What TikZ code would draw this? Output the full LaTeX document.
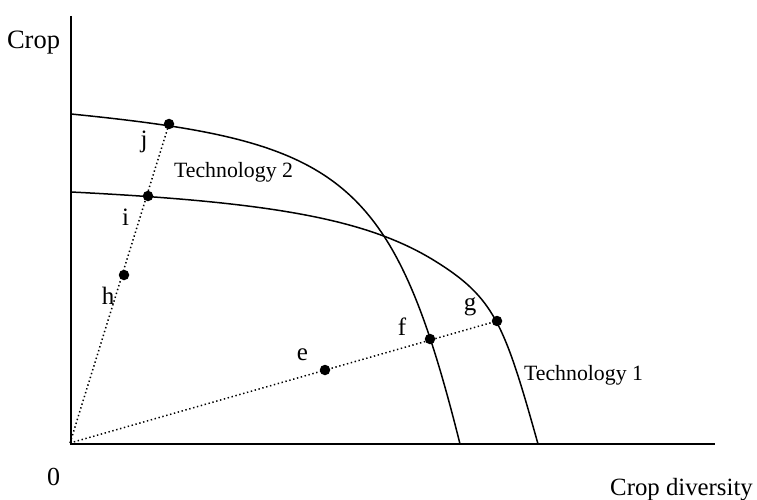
\documentclass[tikz,border=0pt]{standalone}
\usepackage{fontspec}
\setmainfont{Liberation Serif}
\begin{document}
\begin{tikzpicture}[x=1pt,y=-1pt,
  axis/.style={line width=1.8pt},
  frontier/.style={line width=1.5pt},
  ray/.style={line width=1.5pt, dash pattern=on 1.4pt off 2.6pt},
  pt/.style={circle, fill=black, inner sep=0pt, minimum size=10.5pt},
  lab/.style={anchor=base, inner sep=0pt, font=\fontsize{25}{29}\selectfont},
  tech/.style={anchor=base, inner sep=0pt, font=\fontsize{21.8}{25}\selectfont}]
\useasboundingbox (0,0) rectangle (757,500);
% coordinates
\coordinate (O) at (70,443);
\coordinate (ytop) at (71,16);
\coordinate (orig) at (71,444);
\coordinate (xend) at (715,444);
\coordinate (cj) at (169,124);
\coordinate (ci) at (148,196);
\coordinate (ch) at (124,275);
\coordinate (ce) at (325,370);
\coordinate (cf) at (430,339);
\coordinate (cg) at (497,321);
\coordinate (K) at (435,261);
% axes
\draw[axis] (ytop) -- (orig) -- (xend);
% Technology 2 frontier
\draw[frontier] (71,114) .. controls (341,141) and (392.5,174) .. (460,444);
% Technology 1 frontier
\draw[frontier] (71,192) .. controls (271,202) and (367,218.8) .. (K)
  .. controls (494.5,297.9) and (504.4,324) .. (538,444);
% rays
\draw[ray] (O) -- (cj);
\draw[ray] (O) -- (cg);
% points
\node[pt] (j) at (cj) {};
\node[pt] (i) at (ci) {};
\node[pt] (h) at (ch) {};
\node[pt] (e) at (ce) {};
\node[pt] (f) at (cf) {};
\node[pt] (g) at (cg) {};
% point labels
\node[lab] (lj) at (144,147) {j};
\node[lab] (li) at (125.5,225) {i};
\node[lab] (lh) at (108,304) {h};
\node[lab] (le) at (302.5,360) {e};
\node[lab] (lf) at (402,335) {f};
\node[lab] (lg) at (470,310) {g};
% curve labels
\node[tech] (t2) at (233.5,177) {Technology 2};
\node[tech] (t1) at (583.5,380) {Technology 1};
% axis labels
\node[lab, font=\fontsize{26.5}{30}\selectfont] (ylab) at (33.5,49) {Crop};
\node[lab, font=\fontsize{26}{30}\selectfont] (zero) at (53.5,485) {0};
\node[lab, font=\fontsize{24.8}{29}\selectfont] (xlab) at (681.5,495) {Crop diversity};
\end{tikzpicture}
\end{document}
